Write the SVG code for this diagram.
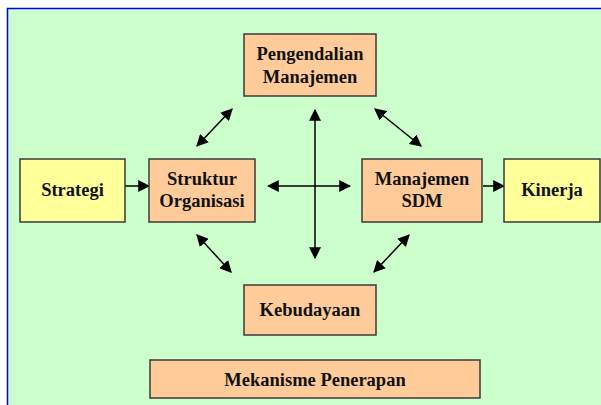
<svg xmlns="http://www.w3.org/2000/svg" width="601" height="405" viewBox="0 0 601 405">
<defs>
<style>
.box{stroke:#3a3a3a;stroke-width:1.5}
.o{fill:#FFCC99}
.y{fill:#FFFF99}
.t{font-family:"Liberation Serif","Times New Roman",serif;font-weight:bold;font-size:18.5px;fill:#111;text-anchor:middle}
.c{stroke:#000;stroke-width:1.5;fill:none}
</style>
<marker id="ah" viewBox="0 0 10 10" refX="9" refY="5" markerWidth="12" markerHeight="12" markerUnits="userSpaceOnUse" orient="auto-start-reverse">
<path d="M0,0 L10,5 L0,10 z" fill="#000"/>
</marker>
</defs>
<rect x="0" y="0" width="601" height="405" fill="#fff"/>
<rect x="7.5" y="8.5" width="600" height="400" fill="#CCFFCC" stroke="#0000FF" stroke-width="1.5"/>
<g id="connectors">
<line class="c" x1="125" y1="186" x2="149" y2="186" marker-end="url(#ah)"/>
<line class="c" x1="483" y1="186" x2="504" y2="186" marker-end="url(#ah)"/>
<line class="c" x1="315" y1="110" x2="315" y2="258" marker-start="url(#ah)" marker-end="url(#ah)"/>
<line class="c" x1="268" y1="186" x2="350" y2="186" marker-start="url(#ah)" marker-end="url(#ah)"/>
<line class="c" x1="232" y1="109" x2="197" y2="146" marker-start="url(#ah)" marker-end="url(#ah)"/>
<line class="c" x1="375" y1="109" x2="421" y2="146" marker-start="url(#ah)" marker-end="url(#ah)"/>
<line class="c" x1="197" y1="235" x2="231" y2="272" marker-start="url(#ah)" marker-end="url(#ah)"/>
<line class="c" x1="409" y1="235" x2="374" y2="272" marker-start="url(#ah)" marker-end="url(#ah)"/>
</g>
<g id="pengendalian">
<rect class="box o" x="244" y="34" width="132" height="62"/>
<text class="t" x="310" y="60">Pengendalian</text>
<text class="t" x="310" y="83">Manajemen</text>
</g>
<g id="strategi">
<rect class="box y" x="20" y="159" width="105" height="63"/>
<text class="t" x="72.5" y="196">Strategi</text>
</g>
<g id="struktur">
<rect class="box o" x="149" y="159" width="106" height="63"/>
<text class="t" x="202" y="185">Struktur</text>
<text class="t" x="202" y="207">Organisasi</text>
</g>
<g id="sdm">
<rect class="box o" x="362" y="159" width="120" height="63"/>
<text class="t" x="422" y="185">Manajemen</text>
<text class="t" x="422" y="207">SDM</text>
</g>
<g id="kinerja">
<rect class="box y" x="504" y="159" width="96" height="63"/>
<text class="t" x="552" y="196">Kinerja</text>
</g>
<g id="kebudayaan">
<rect class="box o" x="244" y="285" width="132" height="50"/>
<text class="t" x="310" y="316">Kebudayaan</text>
</g>
<g id="mekanisme">
<rect class="box o" x="150" y="360" width="330" height="38"/>
<text class="t" x="315" y="386">Mekanisme Penerapan</text>
</g>
</svg>
